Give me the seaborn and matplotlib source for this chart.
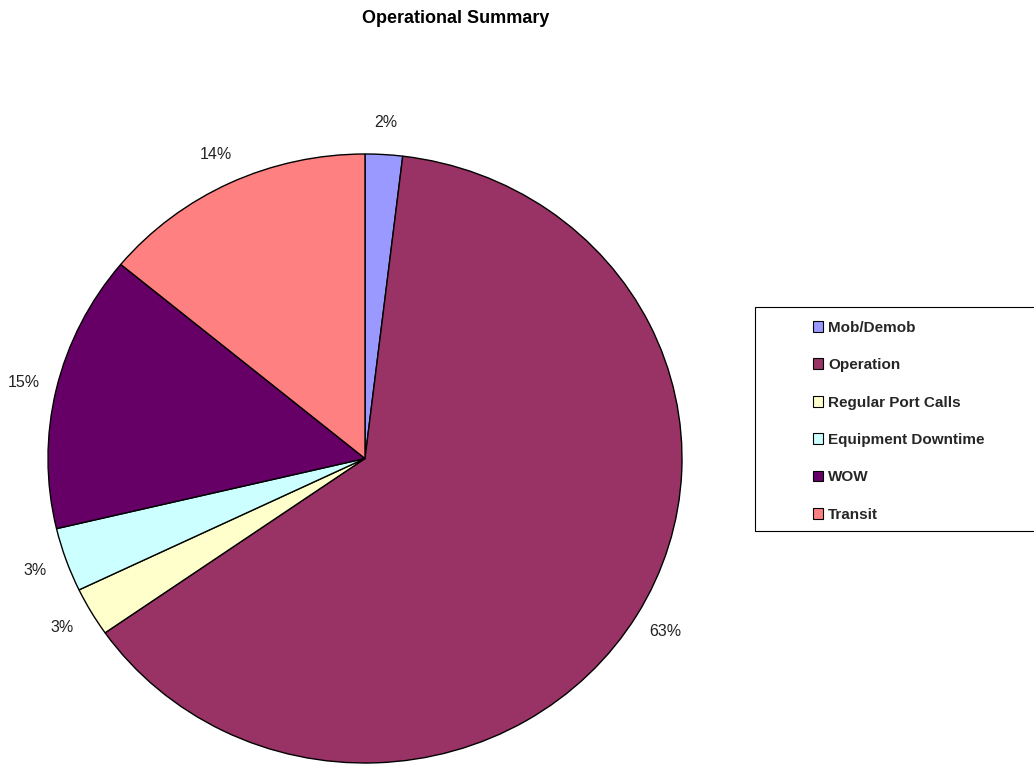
import matplotlib
matplotlib.use("Agg")
import matplotlib.pyplot as plt
import seaborn as sns
from matplotlib.patches import Rectangle

categories = ["Mob/Demob", "Operation", "Regular Port Calls", "Equipment Downtime", "WOW", "Transit"]
shares = [1.9, 63.4, 2.6, 3.4, 14.7, 14.0]
colors = ["#9999FF", "#993366", "#FFFFCC", "#CCFFFF", "#660066", "#FF8080"]

sns.set_theme(style="white")
plt.rcParams["font.family"] = ["Liberation Sans", "DejaVu Sans"]

W, H = 1034, 765
fig = plt.figure(figsize=(W / 100, H / 100), dpi=100)
fig.patch.set_facecolor("white")

# pie axes: x 48..682, y 154..763 (pixels from top)
ax = fig.add_axes([48 / W, (H - 763) / H, 634 / W, 609 / H])
palette = sns.color_palette(colors)
wedges, texts, autotexts = ax.pie(
    shares, colors=palette, startangle=90, counterclock=False,
    autopct="%1.0f%%", pctdistance=1.105,
    wedgeprops=dict(edgecolor="black", linewidth=1.0),
    textprops=dict(fontsize=11.5, color="#222222"),
)
ax.set_aspect("auto")
ax.set_xlim(-1, 1)
ax.set_ylim(-1, 1)
ax.axis("off")
for t in autotexts:
    t.set_clip_on(False)

fig.text(456 / W, 1 - 18.5 / H, "Operational Summary", ha="center", va="center",
         fontsize=13, fontweight="bold", color="black")

# legend frame
fig.patches.append(Rectangle((755 / W, 1 - 531 / H), 290 / W, 224 / H,
                             transform=fig.transFigure, fill=False,
                             edgecolor="black", linewidth=0.8))
handles = [Rectangle((0, 0), 1, 1, facecolor=c, edgecolor="black", linewidth=0.8) for c in palette]
leg = fig.legend(handles, categories, loc="upper left",
                 bbox_to_anchor=(799 / W, 1 - 307 / H), frameon=False,
                 prop=dict(weight="bold", size=11), handlelength=0.7, handleheight=0.7,
                 handletextpad=0.3, labelspacing=1.53)

fig.savefig("out.png", dpi=100, facecolor="white")
